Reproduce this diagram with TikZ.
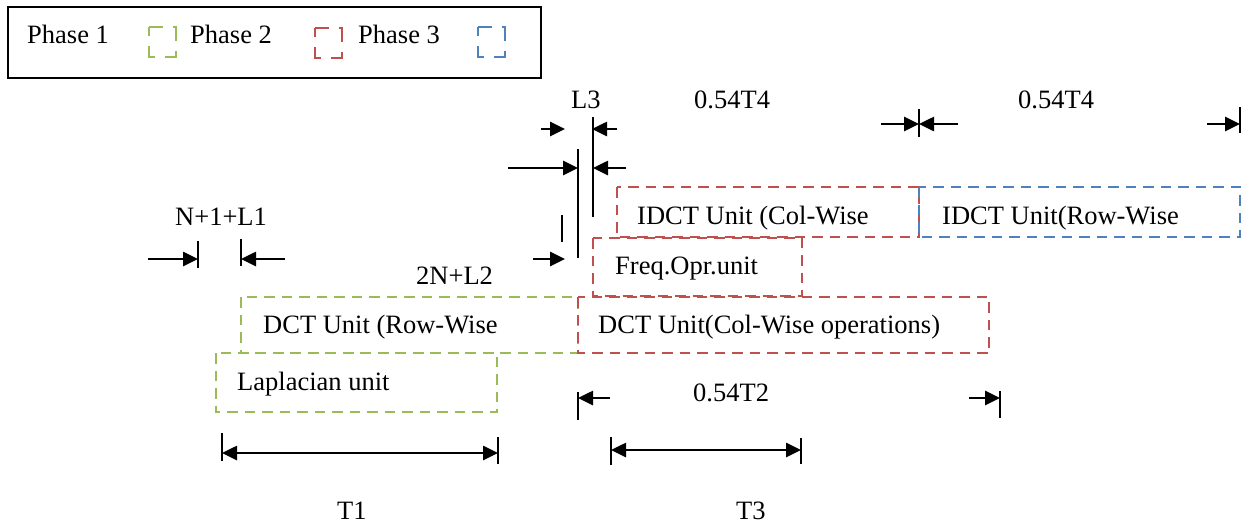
\documentclass[tikz,border=0pt]{standalone}
\usepackage{fontspec}
\setmainfont{Liberation Serif}
\usetikzlibrary{arrows.meta}
\definecolor{phgreen}{RGB}{155,187,89}
\definecolor{phred}{RGB}{192,80,77}
\definecolor{phblue}{RGB}{79,129,189}
\tikzset{
  lbl/.style={anchor=base west, inner sep=0pt, font=\fontsize{26.5}{32}\selectfont},
  unitbox/.style={draw=#1, line width=2.8pt, dash pattern=on 10.5pt off 7pt},
  keybox/.style={draw=#1, line width=2.8pt, dash pattern=on 17pt off 10pt, dash phase=8pt},
  tick/.style={line width=2.5pt},
  dim/.style={line width=2.6pt, -{Triangle[length=15pt,width=14pt]}},
  span/.style={line width=2.6pt, {Triangle[length=15pt,width=14pt]}-{Triangle[length=15pt,width=14pt]}},
}
\begin{document}
\begin{tikzpicture}[x=1pt, y=-1pt]
    \useasboundingbox (0,0) rectangle (1244,525);
    % legend
    \draw[line width=2.7pt] (8,7) rectangle (541,78);
    \node[lbl] (ph1) at (27,43) {Phase 1};
    \draw[keybox=phgreen] (149,27) rectangle (176,57);
    \node[lbl] (ph2) at (190,43) {Phase 2};
    \draw[keybox=phred] (315,28) rectangle (342,58);
    \node[lbl] (ph3) at (358,43) {Phase 3};
    \draw[keybox=phblue] (478,27) rectangle (505,57);

    % units
    \draw[unitbox=phgreen] (216,353) rectangle (497,412);
    \draw[unitbox=phgreen] (241,297) rectangle (578,353);
    \draw[unitbox=phred] (578,297) rectangle (989,353);
    \draw[unitbox=phred] (593,238) rectangle (802,296);
    \draw[unitbox=phred] (617,187) rectangle (919,237);
    \draw[unitbox=phblue] (919,187) rectangle (1240,237);
    \node[lbl] (lap) at (237,390) {Laplacian unit};
    \node[lbl] (dctrow) at (263,333) {DCT Unit (Row-Wise};
    \node[lbl] (dctcol) at (598,333) {DCT Unit(Col-Wise operations)};
    \node[lbl] (freq) at (615,274) {Freq.Opr.unit};
    \node[lbl] (idctcol) at (637,224) {IDCT Unit (Col-Wise};
    \node[lbl] (idctrow) at (942,224) {IDCT Unit(Row-Wise};

    % timing marks
    \coordinate (a1) at (198,259);
    \coordinate (a2) at (241,259);
    \draw[tick] (198,241) -- (198,268);
    \draw[tick] (241,239) -- (241,266);
    \draw[dim] (148,259) -- (a1);
    \draw[dim] (285,259) -- (a2);
    \node[lbl] (nl1) at (175,225) {N+1+L1};

    \coordinate (b1) at (578,168);
    \coordinate (b2) at (593,168);
    \draw[tick] (562,215) -- (562,242);
    \draw[tick] (578,149) -- (578,258);
    \draw[tick] (593,117) -- (593,217);
    \draw[dim] (508,168) -- (b1);
    \draw[dim] (626,168) -- (b2);
    \draw[dim] (533,259) -- (565,259);
    \draw[dim] (541,129) -- (565,129);
    \draw[dim] (617,129) -- (592,129);
    \node[lbl] (nl2) at (416,284) {2N+L2};
    \node[lbl] (l3) at (571,108) {L3};

    \coordinate (c1) at (919,124);
    \coordinate (c2) at (1240,124);
    \draw[tick] (919,109) -- (919,137);
    \draw[tick] (1240,107) -- (1240,133);
    \draw[dim] (881,124) -- (c1);
    \draw[dim] (958,124) -- (c1);
    \draw[dim] (1207,124) -- (c2);
    \node[lbl] (t4a) at (694,108) {0.54T4};
    \node[lbl] (t4b) at (1018,108) {0.54T4};

    \coordinate (d1) at (578,398);
    \coordinate (d2) at (1000,398);
    \draw[tick] (578,392) -- (578,420);
    \draw[tick] (1000,391) -- (1000,418);
    \draw[dim] (610,398) -- (d1);
    \draw[dim] (969,398) -- (d2);
    \node[lbl] (t2) at (693,401) {0.54T2};

    \coordinate (e1) at (222,453);
    \coordinate (e2) at (498,453);
    \coordinate (f1) at (611,450);
    \coordinate (f2) at (801,450);
    \draw[tick] (222,433) -- (222,461);
    \draw[tick] (498,437) -- (498,464);
    \draw[tick] (611,437) -- (611,465);
    \draw[tick] (801,438) -- (801,464);
    \draw[span] (e1) -- (e2);
    \draw[span] (f1) -- (f2);
    \node[lbl] (t1) at (337,519) {T1};
    \node[lbl] (t3) at (736,519) {T3};
\end{tikzpicture}
\end{document}
